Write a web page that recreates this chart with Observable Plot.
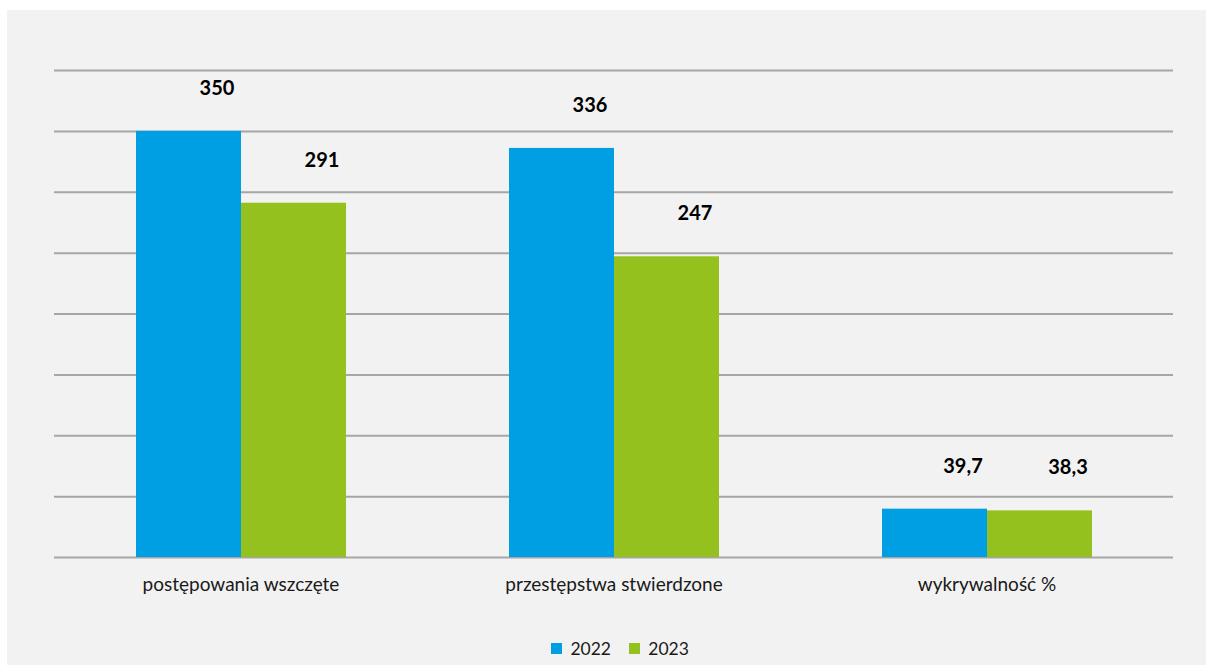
<!DOCTYPE html>
<html>
<head>
<meta charset="utf-8">
<script src="https://cdn.jsdelivr.net/npm/d3@7"></script>
<script src="https://cdn.jsdelivr.net/npm/@observablehq/plot@0.6"></script>
<style>
  html, body { margin: 0; padding: 0; background: #ffffff; }
  #panel { position: absolute; left: 7px; top: 10px; width: 1199px; height: 655px; background: #f2f2f2; overflow: hidden; }
  #panel svg g[aria-label^="fx-axis"] { font-size: 19px; }
  #legend { position: absolute; left: 0; width: 1199px; top: 622px; display: flex; justify-content: center; padding-left: 44px; box-sizing: border-box; }
</style>
</head>
<body>
<div id="panel"></div>
<script>
const categories = ["postępowania wszczęte", "przestępstwa stwierdzone", "wykrywalność %"];
const years = ["2022", "2023"];
const values2022 = [350, 336, 39.7];
const values2023 = [291, 247, 38.3];
const colors = ["#009fe3", "#95c11f"];
const gridTicks = [0, 50, 100, 150, 200, 250, 300, 350, 400];

const data = [];
categories.forEach((c, i) => {
  data.push({category: c, year: years[0], value: values2022[i]});
  data.push({category: c, year: years[1], value: values2023[i]});
});
const fmt = v => String(v).replace(".", ",");

const chart = Plot.plot({
  width: 1199,
  height: 600,
  marginLeft: 47,
  marginRight: 33,
  marginTop: 60,
  marginBottom: 53,
  style: {background: "transparent", fontFamily: "Lato, 'Open Sans', sans-serif", fontSize: "19px", color: "#1a1a1a"},
  fx: {domain: categories, padding: 0, label: null, tickSize: 0, tickPadding: 20, axis: "bottom"},
  x: {domain: years, paddingInner: 0, paddingOuter: 0.76, axis: null},
  y: {domain: [0, 400], axis: null},
  color: {domain: years, range: colors},
  marks: [
    Plot.ruleY(gridTicks, {stroke: "#a6a6a6", strokeWidth: 2}),
    Plot.barY(data, {fx: "category", x: "year", y: "value", fill: "year"}),
    Plot.text(data, {fx: "category", x: "year", y: "value", text: d => fmt(d.value), dy: -43, dx: 28, fontWeight: "bold", fontSize: 20, fill: "#000"})
  ]
});
document.getElementById("panel").appendChild(chart);

const legend = Plot.legend({
  color: {domain: years, range: colors},
  swatchSize: 11,
  style: {fontFamily: "Lato, 'Open Sans', sans-serif", fontSize: "17.5px", color: "#1a1a1a", background: "transparent"}
});
const lg = document.createElement("div");
lg.id = "legend";
lg.appendChild(legend);
document.getElementById("panel").appendChild(lg);
</script>
</body>
</html>
